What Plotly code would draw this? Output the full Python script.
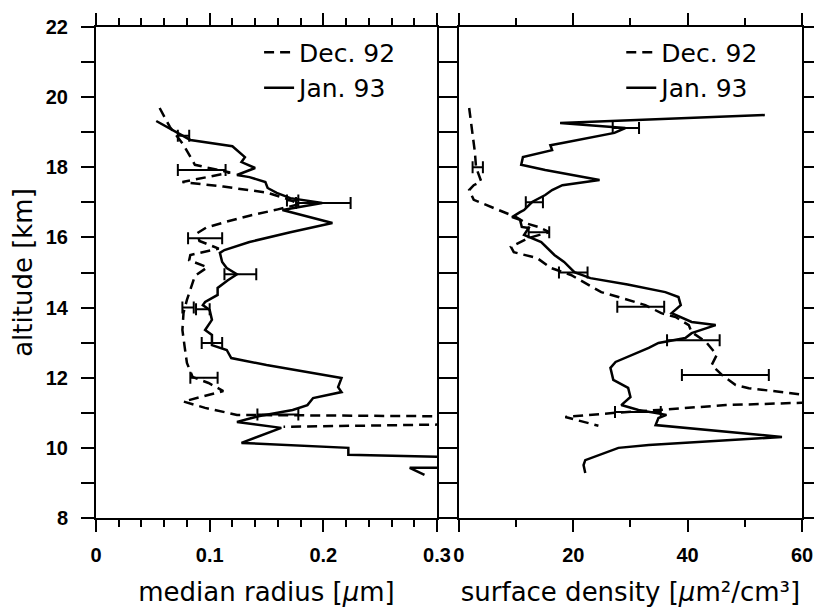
import plotly.graph_objects as go

# ---------------- data ----------------
# left panel: median radius [um]
dec92_radius_alt = [19.69, 19.15, 18.64, 18.07, 17.85, 17.58, 17.45, 17.28, 17.10, 16.95,
                    16.80, 16.62, 16.45, 16.28, 16.12, 15.90, 15.68, 15.50, 15.35, 15.15,
                    14.90, 14.60, 14.22, 13.85, 13.36, 12.88, 12.42, 12.02, 11.85, 11.62,
                    11.32, 11.14, 10.94, 10.88, 10.71, 10.60]
dec92_radius = [0.056, 0.065, 0.077, 0.087, 0.118, 0.076, 0.112, 0.150, 0.168, 0.179,
                0.160, 0.135, 0.115, 0.097, 0.089, 0.091, 0.108, 0.083, 0.082, 0.098,
                0.087, 0.084, 0.080, 0.077, 0.076, 0.078, 0.080, 0.085, 0.099, 0.112,
                0.077, 0.096, 0.124, 0.400, 0.400, 0.165]

jan93_radius_alt = [19.32, 18.98, 18.78, 18.60, 18.41, 18.29, 18.15, 17.98, 17.78, 17.72,
                    17.58, 17.41, 17.27, 17.12, 16.98, 16.78, 16.41, 16.15, 15.87, 15.64,
                    15.56, 15.30, 15.13, 14.95, 14.78, 14.56, 14.36, 14.16, 14.07, 13.93,
                    13.65, 13.36, 13.22, 12.93, 12.79, 12.56, 12.36, 12.16, 11.99, 11.73,
                    11.59, 11.42, 11.22, 11.08, 10.91, 10.74, 10.57, 10.14, 10.00, 9.80,
                    9.68, 9.45, 9.43, 9.23]
jan93_radius = [0.053, 0.072, 0.083, 0.120, 0.127, 0.131, 0.128, 0.140, 0.124, 0.135,
                0.149, 0.151, 0.159, 0.171, 0.199, 0.164, 0.208, 0.171, 0.135, 0.113,
                0.109, 0.111, 0.115, 0.124, 0.116, 0.107, 0.107, 0.096, 0.094, 0.100,
                0.102, 0.096, 0.102, 0.102, 0.115, 0.119, 0.150, 0.185, 0.216, 0.213,
                0.216, 0.191, 0.186, 0.173, 0.144, 0.124, 0.163, 0.128, 0.222, 0.222,
                0.400, 0.400, 0.276, 0.289]

dec92_radius_err_alt = [17.92, 17.05, 15.98, 14.00, 12.00]
dec92_radius_err_val = [0.093, 0.173, 0.096, 0.081, 0.095]
dec92_radius_err = [0.021, 0.005, 0.015, 0.005, 0.012]

jan93_radius_err_alt = [18.90, 16.98, 14.95, 13.95, 12.99, 10.95]
jan93_radius_err_val = [0.077, 0.200, 0.127, 0.094, 0.102, 0.160]
jan93_radius_err = [0.005, 0.024, 0.014, 0.006, 0.009, 0.018]

# right panel: surface density [um^2/cm^3]
dec92_sd_alt = [19.69, 19.00, 18.43, 18.00, 17.60, 17.49, 17.35, 17.07, 16.87, 16.64,
                16.58, 16.40, 16.30, 16.15, 15.98, 15.73, 15.58, 15.41, 15.13, 14.93,
                14.44, 14.30, 14.07, 13.84, 13.73, 13.50, 13.30, 13.02, 12.65, 12.36,
                12.08, 11.79, 11.70, 11.60, 11.45, 11.30, 11.22, 11.08, 11.00, 10.88,
                10.63]
dec92_sd = [1.8, 2.4, 2.8, 3.0, 3.9, 2.6, 1.8, 2.6, 5.6, 8.8,
            10.0, 11.8, 13.9, 15.8, 12.1, 9.1, 9.6, 13.7, 16.1, 19.6,
            24.9, 27.9, 32.6, 35.4, 37.9, 40.2, 40.7, 43.2, 45.1, 44.2,
            46.0, 48.4, 50.7, 56.0, 63.0, 63.0, 46.7, 34.9, 27.4, 18.6,
            24.4]

jan93_sd_alt = [19.49, 19.26, 19.12, 18.98, 18.69, 18.63, 18.49, 18.29, 18.07, 17.92,
                17.64, 17.49, 17.35, 17.21, 17.01, 16.78, 16.72, 16.58, 16.50, 16.30,
                16.27, 16.07, 15.87, 15.50, 15.30, 15.01, 14.84, 14.66, 14.44, 14.30,
                14.07, 13.84, 13.59, 13.50, 13.27, 13.13, 12.99, 12.85, 12.45, 12.28,
                11.94, 11.71, 11.45, 11.22, 11.08, 10.94, 10.85, 10.65, 10.31, 10.08,
                10.00, 9.65, 9.51, 9.28]
jan93_sd = [53.5, 17.7, 29.1, 27.2, 18.1, 16.0, 16.3, 11.2, 10.9, 15.1,
            24.6, 18.1, 16.3, 15.1, 12.8, 11.4, 10.7, 9.3, 10.7, 11.0,
            12.2, 11.4, 14.4, 16.7, 18.4, 20.2, 23.0, 29.5, 36.1, 38.4,
            38.8, 37.2, 40.7, 44.9, 40.7, 39.6, 34.9, 33.2, 27.4, 26.5,
            27.0, 29.6, 30.0, 28.4, 31.4, 36.3, 34.9, 34.4, 56.5, 33.2,
            27.9, 22.1, 21.8, 22.1]

dec92_sd_err_alt = [18.00, 16.15, 14.02, 12.08]
dec92_sd_err_val = [3.3, 14.0, 31.8, 46.6]
dec92_sd_err = [0.9, 1.8, 4.1, 7.6]

jan93_sd_err_alt = [19.12, 17.00, 15.00, 13.07, 11.02]
jan93_sd_err_val = [29.2, 13.2, 20.0, 41.0, 31.3]
jan93_sd_err = [2.3, 1.5, 2.5, 4.6, 4.0]

radius_ticks = [0, 0.1, 0.2, 0.3]
radius_ticktext = ["0", "0.1", "0.2", "0.3"]
sd_ticks = [0, 20, 40, 60]
sd_ticktext = ["0", "20", "40", "60"]
alt_ticks = [8, 9, 10, 11, 12, 13, 14, 15, 16, 17, 18, 19, 20, 21, 22]
alt_ticktext = ["8", "", "10", "", "12", "", "14", "", "16", "", "18", "", "20", "", "22"]

series_names = ["Dec. 92", "Jan. 93"]

# ---------------- figure ----------------
BLACK = "black"
DASH = "10px,6px"
LW = 2.5
TITLE_FONT = dict(family="DejaVu Sans", size=26, color=BLACK)
TICK_FONT = dict(family="Liberation Sans, Arial", size=20, color=BLACK, weight="bold")
LEGEND_FONT = dict(family="DejaVu Sans", size=25, color=BLACK)

fig = go.Figure()

# left panel lines
fig.add_trace(go.Scatter(x=dec92_radius, y=dec92_radius_alt, mode="lines", name=series_names[0],
                         line=dict(color=BLACK, width=LW, dash=DASH), xaxis="x", yaxis="y",
                         legend="legend"))
fig.add_trace(go.Scatter(x=jan93_radius, y=jan93_radius_alt, mode="lines", name=series_names[1],
                         line=dict(color=BLACK, width=LW), xaxis="x", yaxis="y",
                         legend="legend"))
# right panel lines
fig.add_trace(go.Scatter(x=dec92_sd, y=dec92_sd_alt, mode="lines", name=series_names[0],
                         line=dict(color=BLACK, width=LW, dash=DASH), xaxis="x2", yaxis="y2",
                         legend="legend2"))
fig.add_trace(go.Scatter(x=jan93_sd, y=jan93_sd_alt, mode="lines", name=series_names[1],
                         line=dict(color=BLACK, width=LW), xaxis="x2", yaxis="y2",
                         legend="legend2"))

# error bars
def err_trace(vals, alts, errs, xa, ya):
    return go.Scatter(x=vals, y=alts, mode="markers", showlegend=False,
                      marker=dict(size=1, color=BLACK),
                      error_x=dict(type="data", array=errs, color=BLACK, thickness=2, width=6),
                      xaxis=xa, yaxis=ya, hoverinfo="skip")

fig.add_trace(err_trace(dec92_radius_err_val, dec92_radius_err_alt, dec92_radius_err, "x", "y"))
fig.add_trace(err_trace(jan93_radius_err_val, jan93_radius_err_alt, jan93_radius_err, "x", "y"))
fig.add_trace(err_trace(dec92_sd_err_val, dec92_sd_err_alt, dec92_sd_err, "x2", "y2"))
fig.add_trace(err_trace(jan93_sd_err_val, jan93_sd_err_alt, jan93_sd_err, "x2", "y2"))

D_LEFT = [0.0, 0.483]
D_RIGHT = [0.514, 1.0]

axis_common = dict(showline=True, linewidth=2, linecolor=BLACK, showgrid=False,
                   zeroline=False, tickcolor=BLACK, tickwidth=2, automargin=False)

fig.update_layout(
    width=816, height=609,
    margin=dict(l=96, r=14, t=27, b=91),
    paper_bgcolor="white", plot_bgcolor="white",
    font=TITLE_FONT,
    xaxis=dict(domain=D_LEFT, range=[0, 0.3], anchor="y", tickvals=radius_ticks,
               ticktext=radius_ticktext, ticks="outside", ticklen=12, mirror="ticks",
               tickfont=TICK_FONT, ticklabelstandoff=6,
               minor=dict(dtick=0.02, ticks="outside", ticklen=7, tickwidth=2, tickcolor=BLACK),
               title=dict(text="median radius [<i>μ</i>m]", font=TITLE_FONT, standoff=18),
               **axis_common),
    yaxis=dict(domain=[0, 1], range=[8, 22], anchor="x", tickvals=alt_ticks,
               ticktext=alt_ticktext, ticks="outside", ticklen=13, mirror="allticks",
               tickfont=TICK_FONT, ticklabelstandoff=9,
               title=dict(text="altitude [km]", font=TITLE_FONT, standoff=6),
               **axis_common),
    xaxis2=dict(domain=D_RIGHT, range=[0, 60], anchor="y2", tickvals=sd_ticks,
                ticktext=sd_ticktext, ticks="outside", ticklen=12, mirror="ticks",
                tickfont=TICK_FONT, ticklabelstandoff=6,
                minor=dict(dtick=10, ticks="outside", ticklen=7, tickwidth=2, tickcolor=BLACK),
                title=dict(text="surface density [<i>μ</i>m²/cm³]", font=TITLE_FONT, standoff=18),
                **axis_common),
    yaxis2=dict(domain=[0, 1], range=[8, 22], anchor="x2", side="right", tickvals=alt_ticks,
                ticks="outside", ticklen=10, showticklabels=False, mirror="allticks",
                **axis_common),
    legend=dict(x=0.231, y=0.995, xanchor="left", yanchor="top", bgcolor="rgba(0,0,0,0)",
                font=LEGEND_FONT, tracegroupgap=0),
    legend2=dict(x=0.744, y=0.995, xanchor="left", yanchor="top", bgcolor="rgba(0,0,0,0)",
                 font=LEGEND_FONT, tracegroupgap=0),
)

fig.write_html("out.html", config={"displayModeBar": False},
               post_script="document.body.style.margin='0px';")
